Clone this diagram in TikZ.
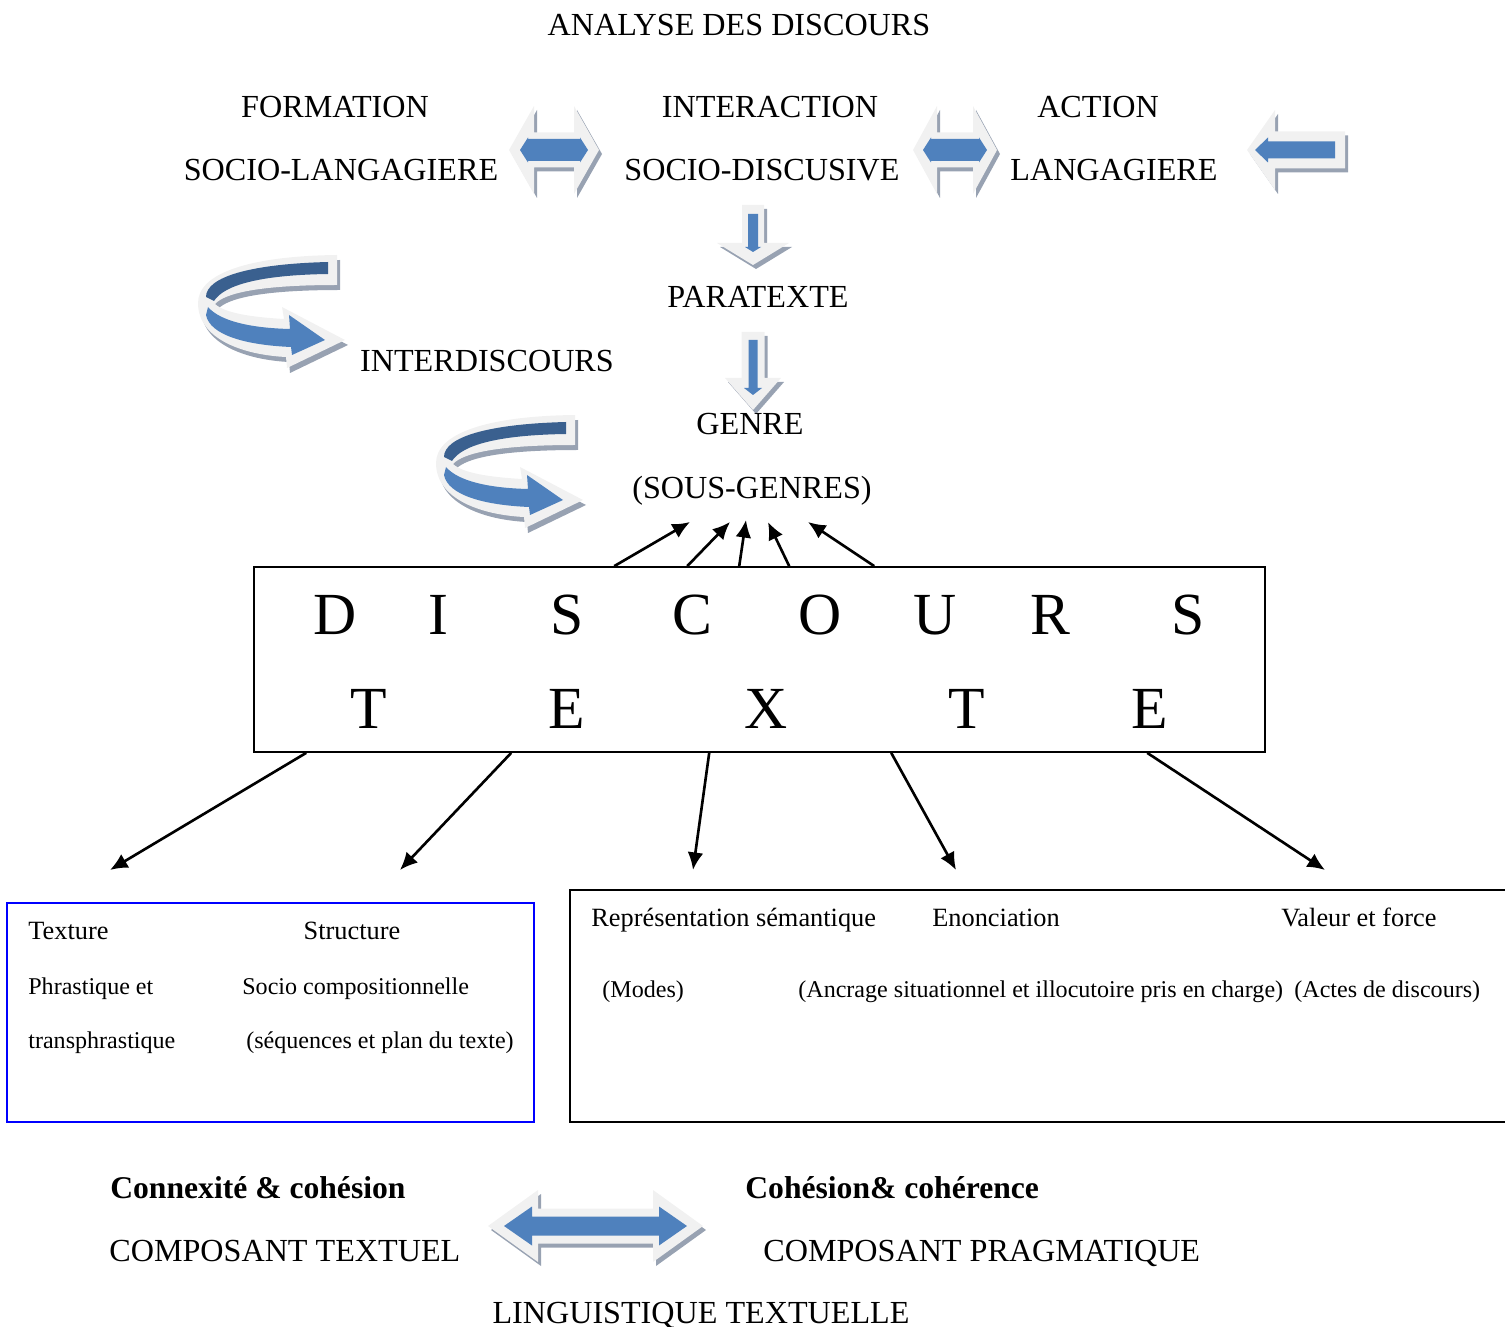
\documentclass[tikz,border=0pt]{standalone}
\usepackage{fontspec}
\setmainfont{Liberation Serif}
\usepackage{tikz}
\usetikzlibrary{arrows.meta}
\usetikzlibrary{calc}
\usepackage{xcolor}
\definecolor{ColBlue}{RGB}{79,129,189}
\definecolor{ColDark}{RGB}{58,96,143}
\definecolor{ColRim}{RGB}{241,241,241}
\definecolor{ColShade}{RGB}{152,162,178}
\tikzstyle{MainText}=[font=\fontsize{18.3}{21}\selectfont,inner sep=0pt,anchor=base]
\tikzstyle{BoldText}=[font=\fontsize{18}{21}\selectfont\bfseries,inner sep=0pt,anchor=base west]
\tikzstyle{BoxText}=[font=\fontsize{15}{18}\selectfont,inner sep=0pt,anchor=base west]
\tikzstyle{SmallText}=[font=\fontsize{13.7}{16}\selectfont,inner sep=0pt,anchor=base west]
\tikzstyle{BigLetter}=[font=\fontsize{34}{40}\selectfont,inner sep=0pt,anchor=base]
\tikzstyle{DiscBox}=[draw,line width=1pt,inner sep=0pt]
\tikzstyle{EdgeArrow}=[line width=1.5pt,-{Latex[length=10pt,width=9pt]}]
\tikzstyle{ArrowShade}=[fill=ColShade]
\tikzstyle{ArrowRim}=[fill=ColRim]
\tikzstyle{ArrowBlue}=[fill=ColBlue]
\tikzstyle{ArrowDark}=[fill=ColDark]
\tikzset{
  pics/DoubleArrow/.style n args={8}{code={
    \fill[ArrowShade,shift={(3,4)}]({-#1},0)--({-#1+#3},{-#2})--({-#1+#3},{-#4})--({#1-#3},{-#4})
      --({#1-#3},{-#2})--({#1},0)--({#1-#3},{#2})--({#1-#3},{#4})--({-#1+#3},{#4})--({-#1+#3},{#2})--cycle;
    \fill[ArrowRim]({-#1},0)--({-#1+#3},{-#2})--({-#1+#3},{-#4})--({#1-#3},{-#4})
      --({#1-#3},{-#2})--({#1},0)--({#1-#3},{#2})--({#1-#3},{#4})--({-#1+#3},{#4})--({-#1+#3},{#2})--cycle;
    \fill[ArrowBlue]({-#5},0)--({-#5+#7},{-#6})--({-#5+#7},{-#8})--({#5-#7},{-#8})
      --({#5-#7},{-#6})--({#5},0)--({#5-#7},{#6})--({#5-#7},{#8})--({-#5+#7},{#8})--({-#5+#7},{#6})--cycle;
  }},
  pics/LeftArrow/.style n args={9}{code={
    \fill[ArrowShade,shift={(3,4)}](0,0)--(#3,{-#2})--(#3,{-#4})--(#1,{-#4})--(#1,#4)--(#3,#4)--(#3,#2)--cycle;
    \fill[ArrowRim](0,0)--(#3,{-#2})--(#3,{-#4})--(#1,{-#4})--(#1,#4)--(#3,#4)--(#3,#2)--cycle;
    \fill[ArrowBlue](#5,0)--({#5+#7},{-#8})--({#5+#7},{-#9})--(#6,{-#9})--(#6,#9)--({#5+#7},#9)--({#5+#7},#8)--cycle;
  }},
  pics/DownArrow/.style n args={9}{code={
    \fill[ArrowShade,shift={(3,4)}](0,0)--({-#2},{-#3})--({-#4},{-#3})--({-#4},{-#1})--(#4,{-#1})--(#4,{-#3})--(#2,{-#3})--cycle;
    \fill[ArrowRim](0,0)--({-#2},{-#3})--({-#4},{-#3})--({-#4},{-#1})--(#4,{-#1})--(#4,{-#3})--(#2,{-#3})--cycle;
    \fill[ArrowBlue](0,{-#5})--({-#8},{-#5-#7})--({-#9},{-#5-#7})--({-#9},{-#6})--(#9,{-#6})--(#9,{-#5-#7})--(#8,{-#5-#7})--cycle;
  }},
  pics/CurvedArrow/.style={code={
    \fill[ArrowShade,shift={(3,5)}](137,0)..controls(50,1)and(-2,18)..(-2,48)..controls(-2,85)and(45,100)..(86,102)
      --(87,113)--(145,85)--(82,52)--(84,64)..controls(50,62)and(25,58)..(15,49)
      ..controls(25,38)and(60,30)..(137,30)--cycle;
    \fill[ArrowRim](137,0)..controls(50,1)and(-2,18)..(-2,48)..controls(-2,85)and(45,100)..(86,102)
      --(87,113)--(145,85)--(82,52)--(84,64)..controls(50,62)and(25,58)..(15,49)
      ..controls(25,38)and(60,30)..(137,30)--cycle;
    \fill[ArrowDark](128,7)..controls(50,9)and(6,22)..(6,42)--(14,46)..controls(24,30)and(60,20)..(128,19)--cycle;
    \fill[ArrowBlue](8,52)..controls(20,66)and(50,73)..(90,74)--(89,60)--(125,85)--(92,100)--(91,92)
      ..controls(45,90)and(10,80)..(6,60)--cycle;
  }},
}

\begin{document}
\begin{tikzpicture}[x=0.02cm,y=-0.02cm]
        \useasboundingbox(0,0)rectangle(1505,1327);
        \clip(0,0)rectangle(1505,1327);
        % title and top row
        \node[MainText](title)at(739,36){ANALYSE DES DISCOURS};
        \node[MainText](form)at(335,118){FORMATION};
        \node[MainText](sociol)at(341,181){SOCIO-LANGAGIERE};
        \node[MainText](inter)at(770,118){INTERACTION};
        \node[MainText](sociod)at(762,181){SOCIO-DISCUSIVE};
        \node[MainText](action)at(1098,118){ACTION};
        \node[MainText](langag)at(1114,181){LANGAGIERE};
        \pic at(554,150){DoubleArrow={45}{44}{25}{17.5}{34}{12.5}{8}{11}};
        \pic at(955,150){DoubleArrow={42}{44}{24}{17.5}{32}{12.5}{8}{11}};
        \pic at(1247,150){LeftArrow={98}{40}{28}{18.5}{8}{88}{13}{12.5}{8.5}};
        % middle column
        \pic at(753,265){DownArrow={60}{36}{22}{11}{13}{51}{5}{8}{5}};
        \node[MainText](para)at(758,308){PARATEXTE};
        \pic at(753,410){DownArrow={78}{28}{32}{11.5}{15}{70}{7}{9}{4.5}};
        \node[MainText](interd)at(487,372){INTERDISCOURS};
        \pic at(200,255){CurvedArrow};
        \pic at(438,415){CurvedArrow};
        \node[MainText](genre)at(750,435){GENRE};
        \node[MainText](sousg)at(752,499){(SOUS-GENRES)};
        % discours / texte box
        \node[DiscBox,minimum width=20.22cm,minimum height=3.7cm](disc)at(759.5,659.5){};
        \foreach \l/\x in {D/335,I/438,S/567,C/692,O/820,U/935,R/1050,S/1188}
            \node[BigLetter](r\x)at(\x,635){\l};
        \foreach \l/\x in {T/369,E/567,X/766,T/967,E/1150}
            \node[BigLetter](t\x)at(\x,728){\l};
        \coordinate(up1)at(690,522);
        \coordinate(up2)at(730,522);
        \coordinate(up3)at(746,520);
        \coordinate(up4)at(768,522);
        \coordinate(up5)at(808,522);
        \draw[EdgeArrow]($(disc.north west)+(361,0)$)--(up1);
        \draw[EdgeArrow]($(disc.north west)+(434,0)$)--(up2);
        \draw[EdgeArrow]($(disc.north west)+(486,0)$)--(up3);
        \draw[EdgeArrow]($(disc.north west)+(536,0)$)--(up4);
        \draw[EdgeArrow]($(disc.north west)+(621,0)$)--(up5);
        \coordinate(dn1)at(110,870);
        \coordinate(dn2)at(400,870);
        \coordinate(dn3)at(693,870);
        \coordinate(dn4)at(956,870);
        \coordinate(dn5)at(1325,870);
        \draw[EdgeArrow]($(disc.south west)+(53,0)$)--(dn1);
        \draw[EdgeArrow]($(disc.south west)+(258,0)$)--(dn2);
        \draw[EdgeArrow]($(disc.south west)+(456,0)$)--(dn3);
        \draw[EdgeArrow]($(disc.south west)+(638,0)$)--(dn4);
        \draw[EdgeArrow]($(disc.south west)+(894,0)$)--(dn5);
        % lower boxes
        \node[DiscBox,draw=blue,minimum width=10.54cm,minimum height=4.38cm](tbox)at(270.5,1012.5){};
        \node[BoxText](textu)at(28,939){Texture};
        \node[BoxText,anchor=base](struc)at(352,939){Structure};
        \node[SmallText](phras)at(28,994){Phrastique et};
        \node[SmallText](socio)at(242,994){Socio compositionnelle};
        \node[SmallText](trans)at(28,1048){transphrastique};
        \node[SmallText](seque)at(246,1048){(séquences et plan du texte)};
        \node[DiscBox,minimum width=19cm,minimum height=4.64cm](pbox)at(1045,1006){};
        \node[BoxText](repre)at(591,926){Représentation sémantique};
        \node[BoxText](enonc)at(932,926){Enonciation};
        \node[BoxText](valeu)at(1281,926){Valeur et force};
        \node[SmallText](modes)at(602,997){(Modes)};
        \node[SmallText](ancra)at(798,997){(Ancrage situationnel et illocutoire pris en charge)};
        \node[SmallText](actes)at(1294,997){(Actes de discours)};
        % bottom
        \node[BoldText](conne)at(110,1198){Connexité \& cohésion};
        \node[MainText,anchor=base west](comtx)at(109,1261){COMPOSANT TEXTUEL};
        \node[BoldText](cohes)at(745,1198){Cohésion\& cohérence};
        \node[MainText,anchor=base west](compr)at(763,1261){COMPOSANT PRAGMATIQUE};
        \pic at(595.5,1226){DoubleArrow={107.5}{36}{50}{17.5}{91.5}{19.5}{28}{9.5}};
        \node[MainText](lingu)at(701,1323){LINGUISTIQUE TEXTUELLE};
    \end{tikzpicture}
\end{document}
